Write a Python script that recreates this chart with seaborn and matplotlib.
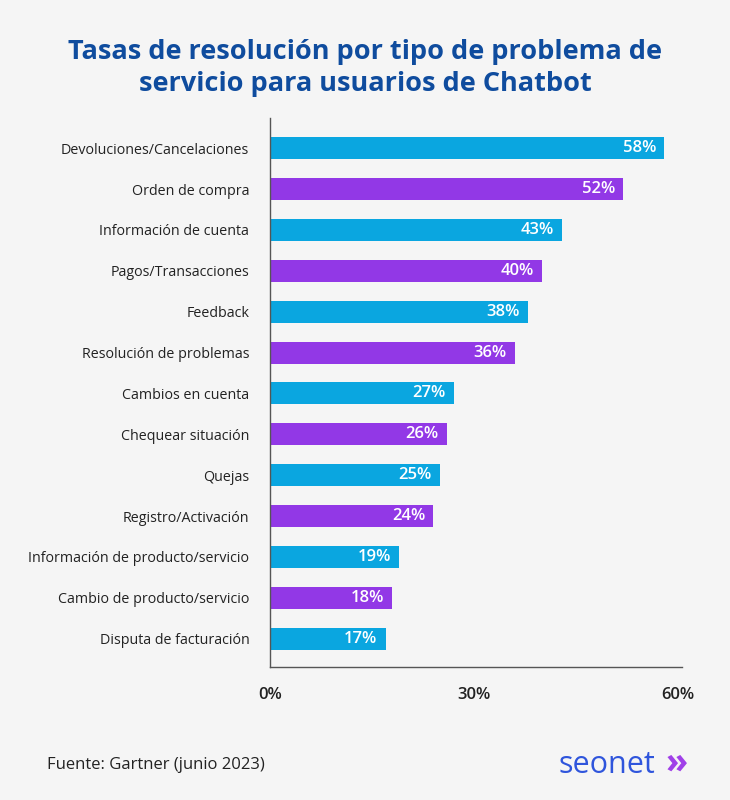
import matplotlib
matplotlib.use("Agg")
import matplotlib.pyplot as plt
import seaborn as sns
import pandas as pd

categories = [
    "Devoluciones/Cancelaciones", "Orden de compra", "Información de cuenta",
    "Pagos/Transacciones", "Feedback", "Resolución de problemas",
    "Cambios en cuenta", "Chequear situación", "Quejas",
    "Registro/Activación", "Información de producto/servicio",
    "Cambio de producto/servicio", "Disputa de facturación",
]
values = [58, 52, 43, 40, 38, 36, 27, 26, 25, 24, 19, 18, 17]
x_ticks = [0, 30, 60]
x_tick_labels = ["0%", "30%", "60%"]

BLUE = "#0aa6e0"
PURPLE = "#9238e6"
BG = "#f5f5f5"

df = pd.DataFrame({"cat": categories, "val": values})
df["grp"] = ["a" if i % 2 == 0 else "b" for i in range(len(df))]

sns.set_theme(style="white")
plt.rcParams["font.family"] = ["Open Sans", "DejaVu Sans"]

fig = plt.figure(figsize=(7.3, 8), dpi=100, facecolor=BG)
ax = fig.add_axes([0.370, 0.166, 0.564, 0.687])
ax.set_facecolor(BG)

sns.barplot(data=df, y="cat", x="val", hue="grp", palette={"a": BLUE, "b": PURPLE},
            dodge=False, legend=False, width=0.54, saturation=1, linewidth=0,
            ax=ax, orient="h")

# value labels inside the bar ends
for i, v in enumerate(values):
    ax.text(v - 1.2, i, f"{v}%", ha="right", va="center", color="white",
            fontsize=12, fontweight="semibold")

ax.set_xlim(0, 60.6)
ax.set_ylim(12.7, -0.75)
ax.set_xticks(x_ticks)
ax.set_xticklabels(x_tick_labels, fontsize=12, fontweight="semibold", color="#222222")
ax.tick_params(axis="x", length=0, pad=14)
ax.tick_params(axis="y", length=0, pad=15, labelsize=10.3, labelcolor="#222222")
ax.set_xlabel("")
ax.set_ylabel("")
for s in ["top", "right"]:
    ax.spines[s].set_visible(False)
for s in ["left", "bottom"]:
    ax.spines[s].set_color("#555555")
    ax.spines[s].set_linewidth(1.0)

fig.text(0.5, 0.915, "Tasas de resolución por tipo de problema de\nservicio para usuarios de Chatbot",
         ha="center", va="center", fontsize=19.5, fontweight="bold", color="#0f4c9e",
         linespacing=1.3)

fig.text(0.064, 0.044, "Fuente: Gartner (junio 2023)", ha="left", va="center",
         fontsize=12, color="#222222")
fig.text(0.765, 0.044, "seonet", ha="left", va="center", fontsize=22,
         color="#2f55dc")
fig.text(0.912, 0.046, "»", ha="left", va="center", fontsize=26,
         fontweight="bold", color="#a040e8")

fig.savefig("out.png", dpi=100, facecolor=BG)
